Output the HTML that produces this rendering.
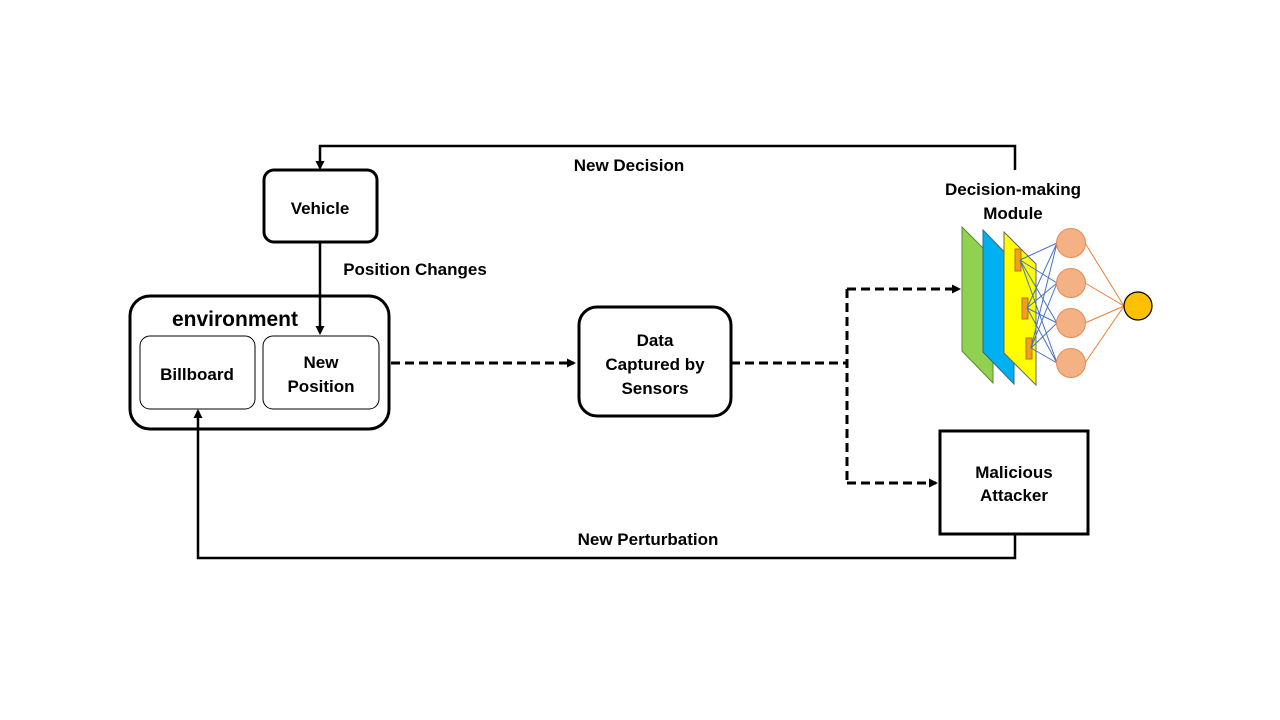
<!DOCTYPE html>
<html><head><style>
body{margin:0;background:#fff;}
svg{display:block;font-family:"Liberation Sans","Noto Sans CJK SC",sans-serif;}
</style></head><body>
<svg width="1280" height="720" viewBox="0 0 1280 720">
<defs>
<marker id="a" markerWidth="10" markerHeight="10" refX="7" refY="5" orient="auto" markerUnits="userSpaceOnUse"><path d="M0,0.5 L9,5 L0,9.5 z" fill="#000"/></marker>
</defs>
<g fill="none" stroke="#000" stroke-width="3">
<rect x="264" y="170" width="113" height="72" rx="10"/>
<rect x="130" y="296" width="259" height="133" rx="20"/>
<rect x="579" y="307" width="152" height="109" rx="18"/>
<rect x="940" y="431" width="148" height="103"/>
</g>
<g fill="none" stroke="#000" stroke-width="1">
<rect x="140" y="336" width="115" height="73" rx="10"/>
<rect x="263" y="336" width="116" height="73" rx="10"/>
</g>
<g fill="none" stroke="#000" stroke-width="2.5">
<polyline points="1015,170 1015,146 320,146 320,168" marker-end="url(#a)"/>
<line x1="320" y1="242" x2="320" y2="333" marker-end="url(#a)"/>
<polyline points="1015,534 1015,558 198,558 198,411" marker-end="url(#a)"/>
</g>
<g fill="none" stroke="#000" stroke-width="3" stroke-dasharray="9,5">
<line x1="391" y1="363" x2="574" y2="363" marker-end="url(#a)"/>
<line x1="731" y1="363" x2="847" y2="363"/>
<line x1="847" y1="289" x2="847" y2="484"/>
<line x1="847" y1="289" x2="959" y2="289" marker-end="url(#a)"/>
<line x1="847" y1="483" x2="936" y2="483" marker-end="url(#a)"/>
</g>
<polygon points="962,227 993,258 993,383 962,351" fill="#92d050" stroke="#5a8a30" stroke-width="1"/>
<polygon points="983,230 1014,262 1014,384 983,352" fill="#00b0f0" stroke="#2a6a90" stroke-width="1"/>
<polygon points="1004,232 1036,264 1036,385 1004,353" fill="#ffff00" stroke="#666" stroke-width="1"/>
<g fill="#f0a020" stroke="#c07010" stroke-width="1">
<rect x="1015" y="249" width="6" height="22"/>
<rect x="1022" y="298" width="6" height="21"/>
<rect x="1026" y="338" width="6" height="21"/>
</g>
<g stroke="#4472c4" stroke-width="1">
<line x1="1020" y1="260" x2="1057" y2="243"/><line x1="1020" y1="260" x2="1057" y2="283"/><line x1="1020" y1="260" x2="1057" y2="323"/><line x1="1020" y1="260" x2="1057" y2="363"/>
<line x1="1027" y1="308" x2="1057" y2="243"/><line x1="1027" y1="308" x2="1057" y2="283"/><line x1="1027" y1="308" x2="1057" y2="323"/><line x1="1027" y1="308" x2="1057" y2="363"/>
<line x1="1031" y1="348" x2="1057" y2="243"/><line x1="1031" y1="348" x2="1057" y2="283"/><line x1="1031" y1="348" x2="1057" y2="323"/><line x1="1031" y1="348" x2="1057" y2="363"/>
</g>
<g stroke="#ed7d31" stroke-width="1">
<line x1="1085" y1="243" x2="1124" y2="306"/><line x1="1085" y1="283" x2="1124" y2="306"/><line x1="1085" y1="323" x2="1124" y2="306"/><line x1="1085" y1="363" x2="1124" y2="306"/>
</g>
<g fill="#f4b183" stroke="#e58a5a" stroke-width="1">
<circle cx="1071" cy="243" r="14.5"/><circle cx="1071" cy="283" r="14.5"/><circle cx="1071" cy="323" r="14.5"/><circle cx="1071" cy="363" r="14.5"/>
</g>
<circle cx="1138" cy="306" r="14" fill="#ffc000" stroke="#000" stroke-width="1.2"/>
<g font-size="17" font-weight="bold" fill="#000" text-anchor="middle">
<text x="320" y="214">Vehicle</text>
<text x="415" y="275">Position Changes</text>
<text x="235" y="326" font-size="21">environment</text>
<text x="197" y="380">Billboard</text>
<text x="321" y="368">New</text>
<text x="321" y="392">Position</text>
<text x="655" y="346">Data</text>
<text x="655" y="370">Captured by</text>
<text x="655" y="394">Sensors</text>
<text x="1014" y="478">Malicious</text>
<text x="1014" y="501">Attacker</text>
<text x="629" y="171">New Decision</text>
<text x="648" y="545">New Perturbation</text>
<text x="1013" y="195">Decision-making</text>
<text x="1013" y="219">Module</text>
</g>
</svg>
</body></html>
